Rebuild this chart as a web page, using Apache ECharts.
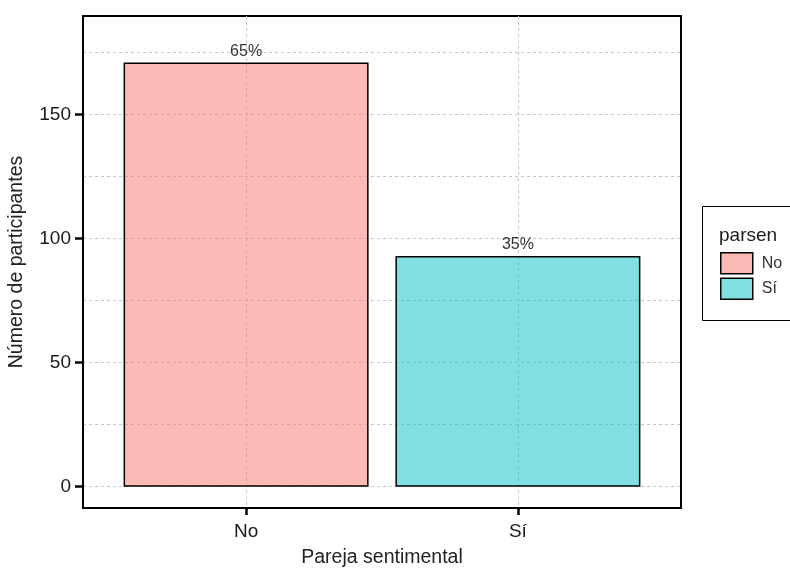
<!DOCTYPE html>
<html>
<head>
<meta charset="utf-8">
<script src="https://cdn.jsdelivr.net/npm/echarts@6/dist/echarts.min.js"></script>
<style>html,body{margin:0;padding:0;background:#fff}#c{width:790px;height:570px}</style>
</head>
<body>
<div id="c"></div>
<script>
const categories = ["No", "Sí"];
const counts = [171, 93];
const yTicks = [0, 50, 100, 150];
const yMinorTicks = [0, 25, 50, 75, 100, 125, 150, 175];
const barColors = ["rgba(248,118,109,0.5)", "rgba(0,191,196,0.5)"];

const total = counts.reduce((a, b) => a + b, 0);
const FONT = "Liberation Sans, Arial, sans-serif";

const chart = echarts.init(document.getElementById('c'), null, {renderer: 'canvas'});

const series = categories.map((cat, i) => ({
  type: 'bar',
  name: cat,
  xAxisIndex: 0,
  yAxisIndex: 0,
  data: [[i + 1, counts[i]]],
  barWidth: 245,
  barGap: '-100%',
  itemStyle: { color: barColors[i], borderColor: '#000', borderWidth: 1.5 },
  label: {
    show: true, position: 'top', distance: 3,
    formatter: () => Math.round(counts[i] / total * 100) + '%',
    fontFamily: FONT, fontSize: 16, color: '#333'
  },
  emphasis: { disabled: true }
}));

chart.setOption({
  animation: false,
  textStyle: { fontFamily: FONT },
  grid: {
    left: 83, top: 16, right: 109, bottom: 62,
    outerBoundsMode: 'none', containLabel: false,
    show: true, borderColor: '#000', borderWidth: 2, backgroundColor: 'transparent'
  },
  xAxis: [{
    type: 'value', min: 0.4, max: 2.6,
    name: 'Pareja sentimental', nameLocation: 'middle', nameGap: 40,
    nameTextStyle: { fontFamily: FONT, fontSize: 19.5, color: '#222' },
    axisLine: { show: true, onZero: false, lineStyle: { color: '#000', width: 2 } },
    axisTick: { show: true, customValues: [1, 2], length: 7, lineStyle: { color: '#000', width: 2.5 } },
    axisLabel: {
      customValues: [1, 2], margin: 14,
      formatter: v => categories[Math.round(v) - 1] || '',
      fontFamily: FONT, fontSize: 19, color: '#1a1a1a'
    },
    splitLine: { show: true, lineStyle: { color: '#c8c8c8', type: [3, 3], width: 1 } }
  }],
  yAxis: [{
    type: 'value', min: -8.6, max: 189.7,
    name: 'Número de participantes', nameLocation: 'middle', nameGap: 56,
    nameTextStyle: { fontFamily: FONT, fontSize: 19.5, color: '#222' },
    axisLine: { show: true, onZero: false, lineStyle: { color: '#000', width: 2 } },
    axisTick: { show: true, customValues: yTicks, length: 8, lineStyle: { color: '#000', width: 2.5 } },
    axisLabel: { customValues: yTicks, margin: 12, fontFamily: FONT, fontSize: 19, color: '#1a1a1a' },
    splitLine: { show: false }
  }, {
    type: 'value', min: -8.6, max: 189.7, position: 'left',
    axisLine: { show: false },
    axisTick: { show: false, customValues: yMinorTicks },
    axisLabel: { show: false, customValues: yMinorTicks },
    splitLine: { show: true, lineStyle: { color: '#c8c8c8', type: [3, 3], width: 1 } }
  }],
  legend: {
    orient: 'vertical', left: 720, top: 252, padding: 0,
    itemWidth: 32, itemHeight: 21, itemGap: 3,
    icon: 'rect',
    itemStyle: { borderColor: '#000', borderWidth: 1.5 },
    textStyle: { fontFamily: FONT, fontSize: 16, color: '#333', padding: [0, 0, 0, 4] },
    selectedMode: false,
    data: categories
  },
  graphic: [
    { type: 'rect', left: 700, top: 204, shape: { width: 110, height: 114 },
      style: { fill: 'none', stroke: '#000', lineWidth: 1 }, silent: true },
    { type: 'text', left: 719, top: 226,
      style: { text: 'parsen', fontFamily: FONT, fontSize: 19, fill: '#1a1a1a' } }
  ],
  series: series
});
</script>
</body>
</html>
